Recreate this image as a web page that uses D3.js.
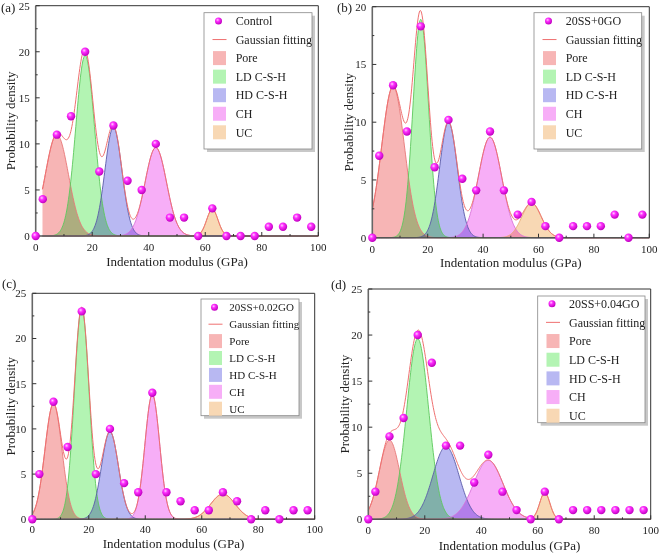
<!DOCTYPE html>
<html><head><meta charset="utf-8">
<script src="https://cdn.jsdelivr.net/npm/d3@7"></script>
<style>
body{margin:0;background:#fff;}
svg{display:block;font-family:"Liberation Serif","Times New Roman",serif;}
</style></head>
<body><svg id="c" width="661" height="554"></svg>
<script>
// ---------- data ----------
const xBins = [0,2.5,7.5,12.5,17.5,22.5,27.5,32.5,37.5,42.5,47.5,52.5,57.5,62.5,67.5,72.5,77.5,82.5,87.5,92.5,97.5];
const controlVals = [0,4,11,13,20,7,12,6,5,10,2,2,0,3,0,0,0,1,1,2,1];
const ss0GOVals   = [0,7.1,13.2,9.2,18.3,6.1,10.2,5.1,4.1,9.2,4.1,2.0,3.1,1.0,0,1.0,1.0,1.0,2.0,0,2.0];
const ss002GOVals = [0,5,13,8,23,5,10,4,3,14,3,2,1,1,3,2,0,1,0,1,1];
const ss004GOVals = [0,3,9,11,20,17,8,8,4,7,3,1,0,3,0,1,1,1,1,1,1];
const seriesNames = ["Control","20SS+0GO","20SS+0.02GO","20SS+0.04GO"];
const phaseNames = ["Pore","LD C-S-H","HD C-S-H","CH","UC"];
// Gaussian components (centre GPa, peak height, sigma) per sample
const centersA = [7.5,17.5,27.5,42.5,62.5], peaksA = [11.0,19.6,11.8,9.6,2.9], sigmasA = [4.1,3.3,3.0,3.8,2.0];
const centersB = [7.5,17.5,27.5,42.5,57.5], peaksB = [13.1,18.9,10.0,8.7,3.0], sigmasB = [4.1,2.8,3.2,4.2,3.5];
const centersC = [7.5,17.5,27.5,42.5,67.5], peaksC = [12.8,23.4,9.7,13.8,2.8], sigmasC = [3.0,2.6,3.0,2.6,4.3];
const centersD = [7.5,17.5,27.5,42.5,62.5], peaksD = [8.6,19.6,7.9,6.4,2.9], sigmasD = [3.6,3.9,4.6,5.2,1.8];
const fitStart = [2.4,0,0,0];
const yMaxes = [25,20,25,25];
const xTickLabels = [0,20,40,60,80,100];
const panelLabels = ["(a)","(b)","(c)","(d)"];

// ---------- style ----------
const fillCols = ["#f7b5b5","#b3f4b3","#b8b8f2","#f7aef7","#f8d8b4"];
const edgeCols = ["#e87878","#5cc85c","#5a5aa8","#d870d8","#e8a870"];
const fitCol = "#ef7070";

const panels = [
 {x0:35.7,x1:318.3,yb:236,yt:5.7, lab:[1,12], box:[204,12.7,312,149], row0:21, step:18.55, sx:219.5, tx:235.7, fs:12, xl:15, xt:30, ytx:14.5, vals:controlVals, c:centersA,p:peaksA,s:sigmasA},
 {x0:372.3,x1:649.3,yb:237.7,yt:6.7, lab:[337,12], box:[534,12.7,641.7,149], row0:21, step:18.55, sx:549.5, tx:565.7, fs:12, xl:15, xt:29, ytx:353, vals:ss0GOVals, c:centersB,p:peaksB,s:sigmasB},
 {x0:32.3,x1:314.7,yb:519.3,yt:293.3, lab:[2,288], box:[201,299,299,415.7], row0:307.3, step:16.9, sx:215.5, tx:229.3, fs:11, xl:14, xt:28.5, ytx:15, vals:ss002GOVals, c:centersC,p:peaksC,s:sigmasC},
 {x0:368.3,x1:650.7,yb:519.3,yt:289, lab:[331,289], box:[537.7,296,645,422.7], row0:303.7, step:18.67, sx:553, tx:569, fs:12, xl:15, xt:30.5, ytx:348.5, vals:ss004GOVals, c:centersD,p:peaksD,s:sigmasD}
];

const svg = d3.select("#c");
const defs = svg.append("defs");
const grad = defs.append("radialGradient").attr("id","ball").attr("cx","38%").attr("cy","35%").attr("r","65%");
grad.append("stop").attr("offset","0%").attr("stop-color","#ffd0ff");
grad.append("stop").attr("offset","35%").attr("stop-color","#ff30ff");
grad.append("stop").attr("offset","100%").attr("stop-color","#c000c0");

const gauss = (x,c,p,s)=>p*Math.exp(-((x-c)*(x-c))/(2*s*s));

panels.forEach((P,i)=>{
  const x = d3.scaleLinear().domain([0,100]).range([P.x0,P.x1]);
  const y = d3.scaleLinear().domain([0,yMaxes[i]]).range([P.yb,P.yt]);
  const g = svg.append("g");
  const xs = d3.range(fitStart[i],100.001,0.2);

  // component areas with multiply blending
  const areaG = g.append("g").style("isolation","isolate");
  phaseNames.forEach((nm,k)=>{
    const pts = xs.map(v=>[v,gauss(v,P.c[k],P.p[k],P.s[k])]);
    areaG.append("path")
      .attr("d",d3.area().x(d=>x(d[0])).y0(y(0)).y1(d=>y(d[1]))(pts))
      .attr("fill",fillCols[k]).style("mix-blend-mode","multiply");
  });
  phaseNames.forEach((nm,k)=>{
    const pts = xs.map(v=>[v,gauss(v,P.c[k],P.p[k],P.s[k])]);
    g.append("path").attr("d",d3.line().x(d=>x(d[0])).y(d=>y(d[1]))(pts))
      .attr("fill","none").attr("stroke",edgeCols[k]).attr("stroke-width",0.9);
  });
  // cumulative fit
  const fitPts = xs.map(v=>[v,d3.sum(P.c,(c,k)=>gauss(v,c,P.p[k],P.s[k]))]);
  g.append("path").attr("d",d3.line().x(d=>x(d[0])).y(d=>y(d[1]))(fitPts))
    .attr("fill","none").attr("stroke",fitCol).attr("stroke-width",1);

  // frame
  g.append("line").attr("x1",P.x0).attr("x2",P.x1).attr("y1",P.yt).attr("y2",P.yt).attr("stroke","#333").attr("stroke-width",1);
  g.append("line").attr("x1",P.x1).attr("x2",P.x1).attr("y1",P.yt).attr("y2",P.yb).attr("stroke","#333").attr("stroke-width",1);
  g.append("line").attr("x1",P.x0).attr("x2",P.x1).attr("y1",P.yb).attr("y2",P.yb).attr("stroke","#555").attr("stroke-width",1.5);
  g.append("line").attr("x1",P.x0).attr("x2",P.x0).attr("y1",P.yt).attr("y2",P.yb).attr("stroke","#666").attr("stroke-width",1.6);

  // ticks (inward)
  const yMajor = d3.range(0,yMaxes[i]+0.01,5), yMinor = d3.range(2.5,yMaxes[i],5);
  yMajor.forEach(v=>g.append("line").attr("x1",P.x0).attr("x2",P.x0+4).attr("y1",y(v)).attr("y2",y(v)).attr("stroke","#333"));
  yMinor.forEach(v=>g.append("line").attr("x1",P.x0).attr("x2",P.x0+2).attr("y1",y(v)).attr("y2",y(v)).attr("stroke","#333"));
  xTickLabels.forEach(v=>g.append("line").attr("x1",x(v)).attr("x2",x(v)).attr("y1",P.yb).attr("y2",P.yb-4).attr("stroke","#333"));
  d3.range(10,100,20).forEach(v=>g.append("line").attr("x1",x(v)).attr("x2",x(v)).attr("y1",P.yb).attr("y2",P.yb-2).attr("stroke","#333"));
  yMajor.forEach(v=>g.append("text").attr("x",P.x0-6).attr("y",y(v)).attr("dy","0.35em").attr("text-anchor","end")
      .attr("font-size",11).attr("fill","#222").text(v));
  xTickLabels.forEach(v=>g.append("text").attr("x",x(v)).attr("y",P.yb+P.xl).attr("text-anchor","middle")
      .attr("font-size",11).attr("fill","#222").text(v));

  // titles
  g.append("text").attr("x",(P.x0+P.x1)/2).attr("y",P.yb+P.xt).attr("text-anchor","middle").attr("font-size",13).attr("fill","#222")
    .text("Indentation modulus (GPa)");
  g.append("text").attr("transform",`translate(${P.ytx},${(P.yt+P.yb)/2}) rotate(-90)`).attr("text-anchor","middle")
    .attr("font-size",13).attr("fill","#222").text("Probability density");
  g.append("text").attr("x",P.lab[0]).attr("y",P.lab[1]).attr("font-size",13).attr("fill","#222").text(panelLabels[i]);

  // points
  g.selectAll("circle.pt").data(xBins.map((b,j)=>[b,P.vals[j]])).enter().append("circle")
    .attr("cx",d=>x(d[0])).attr("cy",d=>y(d[1])).attr("r",4.2).attr("fill","url(#ball)");

  // legend
  const [bx0,by0,bx1,by1] = P.box;
  g.append("rect").attr("x",bx0+3).attr("y",by0+3).attr("width",bx1-bx0).attr("height",by1-by0).attr("fill","#c8c8c8");
  g.append("rect").attr("x",bx0).attr("y",by0).attr("width",bx1-bx0).attr("height",by1-by0).attr("fill","#fff").attr("stroke","#888").attr("stroke-width",0.8);
  const labels = [seriesNames[i],"Gaussian fitting"].concat(phaseNames);
  labels.forEach((t,k)=>{
    const ry = P.row0 + k*P.step;
    if(k===0) g.append("circle").attr("cx",P.sx-1).attr("cy",ry).attr("r",3.5).attr("fill","url(#ball)");
    else if(k===1) g.append("line").attr("x1",P.sx-7).attr("x2",P.sx+7).attr("y1",ry).attr("y2",ry).attr("stroke",fitCol).attr("stroke-width",1);
    else g.append("rect").attr("x",P.sx-6.5).attr("y",ry-7).attr("width",13).attr("height",14).attr("fill",fillCols[k-2]);
    g.append("text").attr("x",P.tx).attr("y",ry).attr("dy","0.35em").attr("font-size",P.fs).attr("fill","#222").text(t);
  });
});
</script></body></html>
